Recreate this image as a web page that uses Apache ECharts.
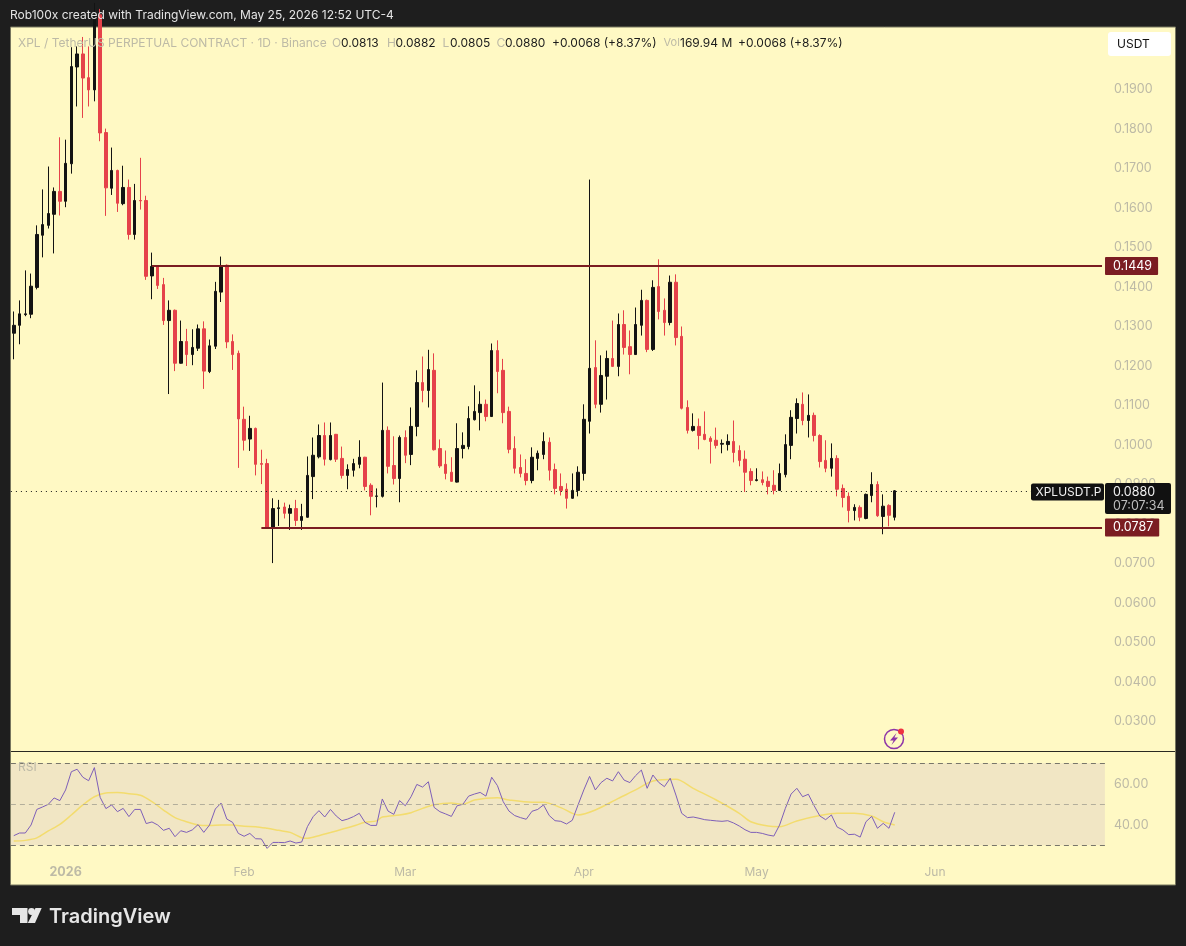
<!DOCTYPE html>
<html>
<head>
<meta charset="utf-8">
<style>html,body{margin:0;padding:0;background:#1e1e1e;}#c{width:1186px;height:946px;}</style>
<script src="https://cdn.jsdelivr.net/npm/echarts@6/dist/echarts.min.js"></script>
</head>
<body>
<div id="c"></div>
<script>
const startDate = '2025-12-23';
const categoryCount = 190;
const tickDates = ['2026-01-01','2026-02-01','2026-03-01','2026-04-01','2026-05-01','2026-06-01'];
const tickLabels = ['{b|2026}','Feb','Mar','Apr','May','Jun'];

const opens = [
.1279,.1299,.1326,.1327,.1395,.1527,.1552,.1580,.1638,.1613,
.1708,.1953,.1986,.1926,.1895,.2085,.1787,.1646,.1691,.1607,
.1648,.1529,.1615,.1615,.1424,.1448,.1402,.1311,.1337,.1203,
.1258,.1225,.1241,.1290,.1182,.1246,.1383,.1451,.1258,.1228,
.1061,.1011,.1038,.0949,.0949,.0786,.0835,.0839,.0823,.0835,
.0805,.0813,.0916,.0966,.1020,.0959,.1023,.0962,.0919,.0932,
.0947,.0965,.0894,.0866,.0866,.1033,.0944,.0911,.1015,.0972,
.1043,.1154,.1134,.1185,.0987,.0947,.0927,.0902,.0987,.0992,
.1060,.1078,.1099,.1068,.1235,.1185,.1081,.0987,.0939,.0924,
.0906,.0962,.0972,.1003,.0934,.0891,.0884,.0861,.0881,.0924,
.1056,.1192,.1099,.1170,.1215,.1195,.1301,.1245,.1225,.1299,
.1362,.1238,.1397,.1337,.1306,.1408,.1271,.1091,.1033,.1043,
.1023,.1013,.1008,.0998,.0997,.1005,.0982,.0960,.0929,.0906,
.0908,.0904,.0894,.0881,.0921,.0995,.1063,.1099,.1058,.1071,
.1020,.0957,.0937,.0962,.0886,.0866,.0830,.0838,.0810,.0868,
.0896,.0815,.0843,.0813];
const closes = [
.1299,.1328,.1328,.1398,.1529,.1554,.1582,.1638,.1613,.1709,
.1954,.1986,.1925,.1895,.2085,.1786,.1647,.1691,.1608,.1648,
.1529,.1615,.1614,.1423,.1448,.1400,.1311,.1337,.1203,.1258,
.1225,.1243,.1290,.1183,.1247,.1385,.1448,.1257,.1225,.1062,
.1008,.1038,.0947,.0947,.0786,.0835,.0837,.0823,.0835,.0805,
.0815,.0919,.0970,.1020,.0960,.1020,.0960,.0919,.0934,.0949,
.0965,.0891,.0866,.0867,.1033,.0942,.0911,.1015,.0970,.1043,
.1154,.1134,.1187,.0984,.0943,.0924,.0904,.0987,.0995,.1063,
.1081,.1099,.1068,.1235,.1182,.1078,.0985,.0937,.0924,.0906,
.0965,.0975,.1005,.0932,.0886,.0881,.0861,.0881,.0927,.1061,
.1190,.1099,.1172,.1215,.1195,.1301,.1243,.1225,.1301,.1362,
.1238,.1395,.1334,.1306,.1408,.1268,.1089,.1033,.1043,.1020,
.1010,.1005,.0995,.1000,.1005,.0977,.0957,.0927,.0906,.0908,
.0901,.0891,.0881,.0924,.0997,.1066,.1101,.1058,.1071,.1020,
.0954,.0937,.0962,.0884,.0863,.0830,.0838,.0813,.0871,.0896,
.0817,.0841,.0818,.0880];
const lows = [
.1213,.1251,.1322,.1317,.1390,.1471,.1544,.1481,.1577,.1598,
.1683,.1853,.1824,.1853,.1866,.1765,.1576,.1629,.1586,.1603,
.1516,.1516,.1592,.1414,.1365,.1391,.1300,.1125,.1183,.1202,
.1196,.1198,.1234,.1138,.1178,.1239,.1358,.1241,.1186,.0938,
.0982,.0981,.0919,.0897,.0784,.0697,.0791,.0810,.0781,.0791,
.0781,.0812,.0859,.0962,.0944,.0957,.0953,.0911,.0884,.0916,
.0937,.0881,.0818,.0838,.0863,.0924,.0896,.0851,.0950,.0945,
.1018,.1104,.1091,.0982,.0938,.0909,.0903,.0901,.0962,.0985,
.1058,.1033,.1056,.1067,.1127,.1051,.0975,.0924,.0914,.0894,
.0899,.0932,.0960,.0906,.0871,.0868,.0835,.0860,.0866,.0906,
.1025,.1089,.1078,.1111,.1194,.1170,.1225,.1175,.1224,.1273,
.1231,.1234,.1314,.1273,.1299,.1248,.1086,.1025,.1030,.0985,
.1008,.0949,.0987,.0975,.0982,.0952,.0942,.0877,.0894,.0904,
.0894,.0871,.0871,.0880,.0914,.0960,.1025,.1046,.1015,.1005,
.0939,.0927,.0916,.0866,.0838,.0800,.0805,.0803,.0808,.0851,
.0814,.0770,.0790,.0805];
const highs = [
.1334,.1362,.1438,.1430,.1552,.1643,.1701,.1648,.1775,.1769,
.2003,.2005,.2029,.2005,.2115,.2100,.1797,.1749,.1693,.1703,
.1668,.1657,.1723,.1627,.1483,.1450,.1419,.1362,.1339,.1311,
.1290,.1289,.1301,.1309,.1263,.1409,.1473,.1453,.1276,.1235,
.1093,.1070,.1040,.0984,.0961,.0861,.0857,.0850,.0845,.0857,
.0847,.0967,.1015,.1048,.1053,.1053,.1024,.0992,.0947,.0961,
.1008,.0966,.0899,.0886,.1154,.1043,.1018,.1020,.1033,.1091,
.1185,.1220,.1237,.1228,.1010,.0982,.0965,.1051,.1028,.1094,
.1147,.1132,.1111,.1253,.1261,.1214,.1093,.1018,.0972,.0960,
.0990,.0982,.1028,.1015,.0949,.0924,.0899,.0924,.0942,.1099,
.1668,.1261,.1223,.1235,.1311,.1329,.1337,.1286,.1344,.1389,
.1364,.1413,.1466,.1367,.1425,.1428,.1296,.1109,.1076,.1063,
.1081,.1018,.1040,.1010,.1023,.1058,.0995,.0982,.0937,.0937,
.0929,.0916,.0932,.0949,.1023,.1084,.1114,.1129,.1124,.1078,
.1023,.1008,.1000,.0970,.0896,.0876,.0846,.0843,.0873,.0927,
.0904,.0871,.0846,.0882];

const rsiValues = [
34.7,36.0,36.0,39.9,47.5,48.7,50.0,53.1,51.8,57.0,
65.9,67.1,63.2,61.5,67.9,53.4,47.9,49.7,46.4,48.0,
44.0,47.5,47.5,40.6,41.4,39.9,37.3,38.3,34.2,37.1,
36.3,37.5,40.1,36.3,39.9,47.7,50.6,42.8,41.2,35.8,
34.4,35.8,33.2,33.1,28.5,31.4,31.4,31.3,32.1,31.1,
31.6,39.1,44.0,46.9,43.8,47.5,44.3,42.0,42.8,44.0,
45.6,41.2,39.7,39.7,52.6,46.7,45.1,51.8,49.3,53.7,
59.7,58.4,61.0,48.5,46.4,45.3,44.1,49.3,
50.0,54.0,55.0,55.8,54.0,63.2,59.1,51.3,46.7,44.5,
43.5,42.7,46.6,47.5,49.7,44.5,42.0,41.7,40.4,42.2,
49.7,57.0,63.6,57.0,60.6,62.7,61.4,65.9,61.8,60.6,
64.0,66.7,57.8,64.3,60.7,58.6,62.7,54.5,45.6,43.5,
43.8,43.2,42.5,42.2,41.9,41.7,42.0,40.9,39.4,37.6,
36.3,36.3,35.8,35.0,34.5,39.9,48.0,55.0,57.8,53.7,
54.9,49.3,44.3,42.5,44.8,38.9,37.5,35.2,35.4,34.0,
41.5,44.1,38.3,40.7,38.3,46.1];

const rsiMaBars = [0,2,4,6,8,10,12,14,16,18,20,22,24,26,28,30,32,34,36,38,40,42,44,46,48,50,51,53,55,57,59,61,63,64,67,69,71,73,76,78,80,84,86,90,92,95,98,101,105,108,111,115,118,122,126,128,131,133,136,140,143,146,149,151,153];
const rsiMaValues = [32.1,32.4,33.6,37.0,40.2,44.8,49.7,53.7,55.5,55.7,55.2,54.4,51.3,47.2,43.5,41.5,39.9,39.6,39.9,39.9,39.3,39.1,38.3,37.3,36.3,33.7,33.4,34.7,36.2,37.8,39.4,41.2,41.9,43.8,44.8,45.9,48.0,49.8,50.6,50.0,52.1,53.2,52.1,51.0,51.0,48.4,44.8,47.2,52.9,57.0,61.4,62.2,57.8,52.1,45.6,41.5,39.4,39.1,41.9,44.5,45.6,45.6,44.3,41.5,39.9];

const resistance = 0.1449, resistanceFromBar = 24;
const support = 0.0787, supportFromBar = 43;
const lastPrice = 0.0880;

const categories = [];
{
  const d0 = new Date(startDate + 'T00:00:00Z');
  for (let i = 0; i < categoryCount; i++) {
    categories.push(new Date(d0.getTime() + i * 86400000).toISOString().slice(0, 10));
  }
}
const candles = opens.map((o, i) => [o, closes[i], lows[i], highs[i]]);
const FONT = 'Inter, "Noto Sans", sans-serif';
const UP = '#131313', DOWN = '#e5424a', MAROON = '#7b1d22', GRAY = '#bdbaa6', PANE = '#fff9c4';

function levelLine(value, fromBar) {
  const style = { color: MAROON, width: 2, type: 'solid' };
  return [
    { coord: [categories[fromBar], value], lineStyle: style, label: tagLabel(value.toFixed(4)) },
    { coord: [categories[categoryCount - 1], value], lineStyle: style }
  ];
}
function tagLabel(text) {
  return {
    show: true, position: 'end', formatter: text, distance: 3,
    color: '#fff', backgroundColor: MAROON, fontFamily: FONT, fontSize: 12.5,
    padding: [3, 6, 2, 8], borderRadius: 1
  };
}
function text(x, y, s, color, size, extra) {
  return { type: 'text', x, y, z: 50, style: Object.assign({
    text: s, fill: color, font: (size || 12) + 'px ' + FONT, textVerticalAlign: 'middle', textBaseline: 'middle'
  }, extra || {}) };
}
function rect(x, y, w, h, fill, r, z) {
  return { type: 'rect', z: z == null ? 40 : z, silent: true, shape: { x, y, width: w, height: h, r: r || 0 }, style: { fill } };
}

const graphic = [
  rect(10.5, 27, 1165, 858, PANE, 0, -10),
  { type: 'rect', z: -9, silent: true, shape: { x: 10.5, y: 27, width: 1165, height: 858 }, style: { fill: 'none', stroke: '#77765f', lineWidth: 1 } },
  { type: 'line', z: 30, silent: true, shape: { x1: 11, y1: 751.5, x2: 1175, y2: 751.5 }, style: { stroke: '#2a2a22', lineWidth: 1 } },

  text(10, 15.5, 'Rob100x created with TradingView.com, May 25, 2026 12:52 UTC-4', '#e4e4e4', 12),

  text(18, 43, 'XPL / TetherUS PERPETUAL CONTRACT · 1D · Binance', GRAY, 12),
  text(332, 43, 'O', GRAY, 12), text(341, 43, '0.0813', '#1c1c1c', 12),
  text(387, 43, 'H', GRAY, 12), text(395.5, 43, '0.0882', '#1c1c1c', 12),
  text(442.5, 43, 'L', GRAY, 12), text(450, 43, '0.0805', '#1c1c1c', 12),
  text(496.5, 43, 'C', GRAY, 12), text(505, 43, '0.0880', '#1c1c1c', 12),
  text(552, 43, '+0.0068 (+8.37%)', '#1c1c1c', 12),
  text(663.5, 43, 'Vol', GRAY, 11), text(680, 43, '169.94 M', '#1c1c1c', 12),
  text(738, 43, '+0.0068 (+8.37%)', '#1c1c1c', 12),

  rect(1108, 32, 63, 24, '#ffffff', 3, 40),
  text(1117, 44, 'USDT', '#111111', 12),

  rect(1031, 483.5, 73, 17, '#111111', 2, 40),
  text(1035.5, 492, 'XPLUSDT.P', '#f0f0f0', 12),
  rect(1105, 483, 66, 31, '#111111', 2, 40),
  text(1113, 492, '0.0880', '#f0f0f0', 12.5),
  text(1113, 506, '07:07:34', '#bdbdbd', 12.5),

  text(18, 767.5, 'RSI', GRAY, 12),

  { type: 'circle', z: 40, silent: true, shape: { cx: 894, cy: 739, r: 9.5 }, style: { fill: PANE, stroke: '#8e35a8', lineWidth: 1.5 } },
  { type: 'polygon', z: 41, silent: true, shape: { points: [[896.5, 733], [890, 740.5], [893.6, 740.5], [891.5, 745], [898, 737.5], [894.4, 737.5]] }, style: { fill: '#8e35a8' } },
  { type: 'circle', z: 42, silent: true, shape: { cx: 901, cy: 731.5, r: 3 }, style: { fill: '#ef3340' } },

  { type: 'polygon', z: 40, silent: true, shape: { points: [[12, 908], [27.5, 908], [27.5, 923], [20, 923], [20, 915], [12, 915]] }, style: { fill: '#e6e6e6' } },
  { type: 'circle', z: 40, silent: true, shape: { cx: 31.5, cy: 911.5, r: 3.4 }, style: { fill: '#e6e6e6' } },
  { type: 'polygon', z: 40, silent: true, shape: { points: [[35.5, 908], [41.7, 908], [35, 923], [27.8, 923]] }, style: { fill: '#e6e6e6' } },
  { type: 'text', x: 49, y: 917, z: 40, style: { text: 'TradingView', fill: '#e6e6e6', font: '600 20px ' + FONT, textBaseline: 'middle', textVerticalAlign: 'middle' } }
];

const option = {
  animation: false,
  backgroundColor: '#1e1e1e',
  graphic: { elements: graphic },
  grid: [
    { left: 10.9, top: 27.4, width: 1094, height: 732 },
    { left: 10.9, top: 751, width: 1094, height: 135.3 }
  ],
  xAxis: [
    { type: 'category', gridIndex: 0, data: categories, boundaryGap: true, show: false },
    { type: 'category', gridIndex: 1, data: categories, boundaryGap: true, position: 'bottom',
      axisLine: { show: false }, axisTick: { show: false }, splitLine: { show: false },
      axisLabel: {
        inside: true, margin: 8, color: GRAY, fontFamily: FONT, fontSize: 12,
        interval: (i, v) => tickDates.includes(v),
        formatter: v => tickLabels[tickDates.indexOf(v)],
        rich: { b: { fontWeight: 'bold', fontSize: 12.5, color: GRAY, fontFamily: FONT } }
      } }
  ],
  yAxis: [
    { type: 'value', gridIndex: 0, position: 'right', min: 0.02, max: 0.20532, interval: 0.01,
      axisLine: { show: false }, axisTick: { show: false }, splitLine: { show: false },
      axisLabel: { margin: 9, showMaxLabel: false, showMinLabel: false,
        rich: { a: { color: GRAY, fontFamily: FONT, fontSize: 12.5, padding: [3, 0, 0, 0] } },
        formatter: v => (v > 0.195 ? '' : '{a|' + v.toFixed(4) + '}') } },
    { type: 'value', gridIndex: 1, position: 'right', min: 10, max: 76, interval: 10,
      axisLine: { show: false }, axisTick: { show: false }, splitLine: { show: false },
      axisLabel: { margin: 9, color: GRAY, fontFamily: FONT, fontSize: 12.5,
        formatter: v => (v === 40 || v === 60 ? v.toFixed(2) : '') } }
  ],
  series: [
    {
      type: 'candlestick', xAxisIndex: 0, yAxisIndex: 0, data: candles, barWidth: 3, clip: true,
      itemStyle: { color: UP, color0: DOWN, borderColor: UP, borderColor0: DOWN, borderColorDoji: UP, borderWidth: 1 },
      markLine: {
        silent: true, symbol: 'none', animation: false, precision: 6,
        data: [
          { yAxis: lastPrice, lineStyle: { color: '#1a1a1a', type: [1, 4], width: 1 }, label: { show: false } },
          levelLine(resistance, resistanceFromBar),
          levelLine(support, supportFromBar)
        ]
      }
    },
    {
      type: 'line', xAxisIndex: 1, yAxisIndex: 1, data: rsiValues, showSymbol: false, symbol: 'none', z: 4,
      lineStyle: { color: '#7e5fb8', width: 1 },
      markArea: { silent: true, itemStyle: { color: '#f1e6c4' }, data: [[{ yAxis: 70 }, { yAxis: 30 }]] },
      markLine: {
        silent: true, symbol: 'none', animation: false, label: { show: false },
        data: [
          { yAxis: 70, lineStyle: { color: '#78766a', type: [5, 4], width: 1 } },
          { yAxis: 50, lineStyle: { color: '#b3ae9b', type: [5, 4], width: 1 } },
          { yAxis: 30, lineStyle: { color: '#78766a', type: [5, 4], width: 1 } }
        ]
      }
    },
    {
      type: 'line', xAxisIndex: 1, yAxisIndex: 1, showSymbol: false, symbol: 'none', smooth: 0.3, z: 3,
      data: rsiMaBars.map((b, i) => [categories[b], rsiMaValues[i]]),
      lineStyle: { color: '#f3dc6e', width: 1.5 }
    }
  ]
};
echarts.init(document.getElementById('c')).setOption(option);
</script>
</body>
</html>
